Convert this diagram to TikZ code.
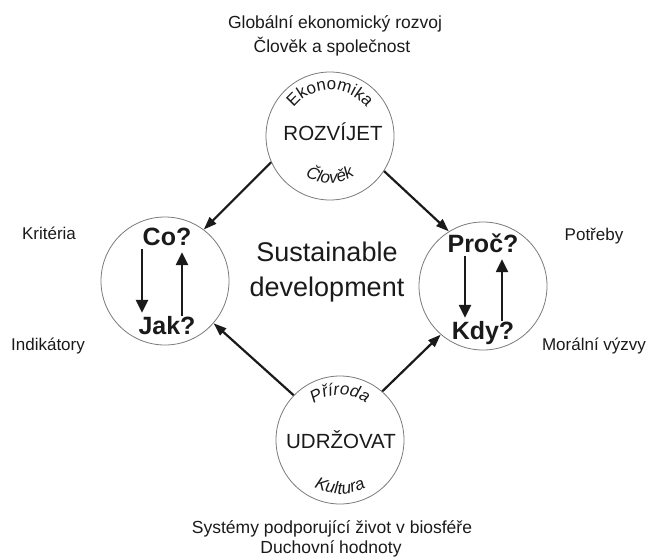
\documentclass[tikz,border=0pt]{standalone}
\usepackage{fontspec}
\setmainfont{Liberation Sans}
\usetikzlibrary{arrows.meta,decorations.text}
\definecolor{ink}{HTML}{1A1A1A}
\definecolor{ringc}{HTML}{7A7A7A}
\tikzset{
  ring/.style={circle, draw=ringc, line width=0.8pt, minimum size=128pt, inner sep=0pt},
  link/.style={draw=ink, line width=2.2pt, -{Triangle[length=13pt,width=9pt]}},
  flow/.style={draw=ink, line width=2.4pt, -{Triangle[length=13pt,width=12pt]}, shorten >=3pt},
  lab/.style={text=ink, anchor=base, inner sep=0pt, font=\fontsize{17}{21}\selectfont},
  labt/.style={lab, font=\fontsize{17.5}{21}\selectfont},
  head/.style={text=ink, anchor=base, inner sep=0pt, font=\fontsize{20.5}{24}\selectfont},
  qn/.style={text=ink, font=\bfseries\fontsize{25}{25}\selectfont, inner sep=0pt, text height=18pt, text depth=4pt},
  big/.style={text=ink, align=center, font=\fontsize{27}{35}\selectfont},
}

\begin{document}
\begin{tikzpicture}[x=1pt,y=1pt]
  \useasboundingbox (0,0) rectangle (653,-557);
  \node[ring] (rozvijet) at (330,-136) {};
  \node[ring] (kolol) at (165,-281) {};
  \node[ring] (kolop) at (483,-286) {};
  \node[ring] (udrzovat) at (340,-440) {};

  \node[head] (roz) at (333,-140) {ROZVÍJET};
  \node[head] (udr) at (341,-448) {UDRŽOVAT};
  \path[decorate, decoration={text along path, text align=center,
    text={|\color{ink}\fontsize{17}{17}\selectfont|Ekonomika}}]
    ([shift={(165:46)}]rozvijet.center) arc[start angle=165, end angle=15, radius=46];
  \path[decorate, decoration={text along path, text align=center,
    text={|\color{ink}\itshape\fontsize{17}{17}\selectfont|Člověk}}]
    ([shift={(215:47)}]rozvijet.center) arc[start angle=215, end angle=325, radius=47];
  \path[decorate, decoration={text along path, text align=center,
    text={|\color{ink}\itshape\fontsize{17}{17}\selectfont|Příroda}}]
    ([shift={(165:45)}]udrzovat.center) arc[start angle=165, end angle=15, radius=45];
  \path[decorate, decoration={text along path, text align=center,
    text={|\color{ink}\itshape\fontsize{17}{17}\selectfont|Kultura}}]
    ([shift={(220:54)}]udrzovat.center) arc[start angle=220, end angle=320, radius=54];

  \draw[link] (rozvijet.204) -- (kolol.53);
  \draw[link] (rozvijet.327) -- (kolop.122);
  \draw[link] (udrzovat.136) -- (kolol.319);
  \draw[link] (udrzovat.49) -- (kolop.229);

  \node[qn] (co) at (167,-238) {Co?};
  \node[qn] (jak) at (167,-327) {Jak?};
  \node[qn] (proc) at (483,-245) {Proč?};
  \node[qn] (kdy) at (483,-332) {Kdy?};
  \draw[flow] ([xshift=-25pt]co.south) -- ([xshift=-25pt]jak.north);
  \draw[flow] ([xshift=15pt]jak.north) -- ([xshift=15pt]co.south);
  \draw[flow] ([xshift=-18pt]proc.south) -- ([xshift=-18pt]kdy.north);
  \draw[flow] ([xshift=19pt]kdy.north) -- ([xshift=19pt]proc.south);

  \node[big] (sd) at (327,-272) {Sustainable\\development};

  \node[lab] (krit) at (49,-239) {Kritéria};
  \node[lab] (indik) at (48,-350) {Indikátory};
  \node[lab] (potr) at (594,-240) {Potřeby};
  \node[lab] (moral) at (594,-350) {Morální výzvy};

  \node[labt] (glob) at (335,-28) {Globální ekonomický rozvoj};
  \node[labt] (clov) at (332,-52) {Člověk a společnost};
  \node[labt] (syst) at (332,-533) {Systémy podporující život v biosféře};
  \node[labt] (duch) at (331,-553) {Duchovní hodnoty};
\end{tikzpicture}
\end{document}
